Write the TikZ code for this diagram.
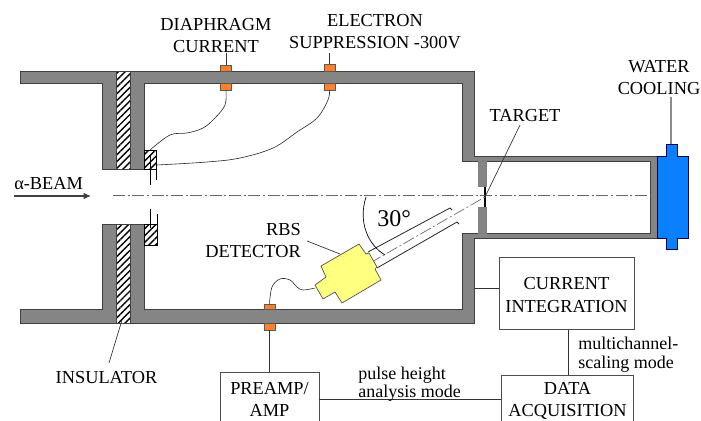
\documentclass[tikz,border=0pt]{standalone}
\usepackage{fontspec}
\setmainfont{Liberation Serif}
\usetikzlibrary{patterns.meta,arrows.meta}
\definecolor{wall}{HTML}{858585}
\definecolor{feed}{HTML}{FF7F2A}
\definecolor{cool}{HTML}{0A80FF}
\definecolor{det}{HTML}{FFFF80}
\tikzset{
  wallshape/.style={fill=wall,draw=black!75,line width=0.6pt},
  hatch/.style={preaction={fill=white},pattern={Lines[angle=45,distance=3.6pt,line width=1.05pt]}},
  feedbox/.style={draw=black!65,fill=feed,line width=0.4pt,inner sep=0pt,minimum width=8pt,minimum height=#1},
  wire/.style={draw=black!85,line width=0.45pt},
  leader/.style={draw=black!80,line width=0.5pt},
  axisline/.style={draw=black!60,line width=0.5pt,dash pattern=on 9pt off 2pt on 1.5pt off 2pt},
  lab/.style={inner sep=0pt,align=center,font=\fontsize{13.75}{16.5}\selectfont},
  small/.style={inner sep=0pt,align=left,font=\fontsize{13.5}{12}\selectfont},
  boxed/.style={draw=black!70,line width=0.5pt,fill=white,align=center,font=\fontsize{13.75}{16.5}\selectfont,anchor=north,inner xsep=0pt}
}
\begin{document}
\begin{tikzpicture}[x=0.75pt,y=-0.75pt]
\clip (0,0) rectangle (701,421);
% chamber
\path[wallshape] (20,71)--(474,71)--(474,156)--(657,156)--(657,238)--(474,238)--(474,323)--(20,323)--(20,309)--(102,309)--(102,224)--(144,224)--(144,309)--(462,309)--(462,233)--(650,233)--(650,161)--(462,161)--(462,83)--(144,83)--(144,169)--(102,169)--(102,83)--(20,83)--cycle;
% insulators and diaphragm
\path[hatch,draw=black!75,line width=0.4pt] (116,71) rectangle (130.5,169);
\path[hatch,draw=black!75,line width=0.4pt] (116,224) rectangle (130.5,323);
\path[hatch,draw=black,line width=0.4pt] (144,150) rectangle (156,169);
\path[hatch,draw=black,line width=0.4pt] (144,224) rectangle (157,245);
\draw[line width=0.6pt] (150,155)--(150,185);
\draw[line width=0.4pt] (156,165)--(156,180);
\draw[line width=0.6pt] (150.5,209)--(150.5,228);
\draw[line width=0.4pt] (157,214)--(157,224);
% target flange
\path[fill=wall,draw=black!50,line width=0.3pt] (478,161) rectangle (486,186);
\path[fill=wall,draw=black!50,line width=0.3pt] (478,207) rectangle (486,233);
\draw[line width=1pt] (485,187)--(485,207);
% water jacket
\path[fill=cool,draw=black!70!blue,line width=0.5pt] (657,156)--(666,156)--(666,144)--(677,144)--(677,156)--(688,156)--(688,238)--(677,238)--(677,249)--(666,249)--(666,238)--(657,238)--cycle;
% feedthroughs
\node[feedbox=4.5pt] (ftAo) at (226,68) {};
\node[feedbox=5.5pt] (ftAi) at (226,86.5) {};
\node[feedbox=5pt] (ftBo) at (329.5,67.5) {};
\node[feedbox=5.5pt] (ftBi) at (329.5,86.5) {};
\node[feedbox=4pt] (ftCi) at (269.5,306.5) {};
\node[feedbox=5pt] (ftCo) at (269.5,326.5) {};
% wires
\coordinate (dA) at (150,150);
\coordinate (dB) at (157,165);
\draw[wire] plot[smooth,tension=0.6] coordinates {(ftAi.south) (225,105) (215,118) (203,128) (187,133) (170,135) (dA)};
\draw[wire] plot[smooth,tension=0.6] coordinates {(ftBi.south) (328,100) (317,118) (297,132) (273,148) (240,158) (207,162) (dB)};
\coordinate (tA) at (226,53);
\coordinate (tB) at (329.5,53);
\draw[leader] (tA)--(ftAo.north);
\draw[leader] (tB)--(ftBo.north);
% beam axis
\coordinate (axL) at (113,195.7);
\coordinate (axR) at (650,195.7);
\draw[axisline] (axL)--(axR);
% detector
\coordinate (tgt) at (485,197);
\coordinate (detEnd) at (370,263);
\draw[line width=0.6pt,draw=black!85] (368,252)--(450,208)--(452,210);
\draw[line width=0.6pt,draw=black!85] (377,268)--(457,222)--(459,224);
\draw[axisline] (detEnd)--(tgt);
\node[inner sep=0pt,minimum size=0pt] (detp) at (315,288) {};
\path[fill=det,draw=black!70,line width=0.5pt] (321,266)--(359,244)--(366,254)--(369,253)--(377,267)--(375,269)--(381,280)--(342,303)--(335,292)--(323,299)--(315,285)--(326,277)--cycle;
\draw[wire] plot[smooth,tension=0.6] coordinates {(ftCi.north) (272,287) (280,279) (290,280) (297,287) (303,290) (detp)};
\draw[line width=0.5pt] (366,197) .. controls (358,222) and (368,245) .. (385,255);
% boxes
\node[boxed,minimum width=74.25pt,inner ysep=7.5pt] (preamp) at (269.5,372) {PREAMP/\\AMP};
\node[boxed,minimum width=99pt,inner ysep=5.5pt] (daq) at (567.5,375) {DATA\\ACQUISITION};
\node[boxed,minimum width=101pt,minimum height=54pt] (cur) at (566.5,257) {};
\node[lab,font=\fontsize{13.75}{17}\selectfont] (curtxt) at (566.5,295) {CURRENT\\INTEGRATION};
\coordinate (jp) at (400,399);
\coordinate (jc) at (474,288);
\draw[leader] (ftCo.south)--(ftCo.south |- preamp.north);
\draw[leader] (preamp.east |- jp)--(daq.west |- jp);
\draw[leader] (jc)--(cur.west |- jc);
\coordinate (jd) at (568,350);
\draw[leader] (cur.south -| jd)--(daq.north -| jd);
% labels
\node[lab] (ldia) at (216,36) {DIAPHRAGM\\CURRENT};
\node[lab] (lele) at (375,32) {ELECTRON\\SUPPRESSION -300V};
\node[lab] (lwat) at (659,78) {WATER\\COOLING};
\node[lab,anchor=base] (ltar) at (525,121) {TARGET};
\node[lab,anchor=base west] (lbeam) at (14,189) {α-BEAM};
\node[lab,anchor=base] (lins) at (106.5,383) {INSULATOR};
\node[lab,align=right,anchor=east] (lrbs) at (301,241) {RBS\\DETECTOR};
\node[inner sep=0pt,font=\fontsize{18}{20}\selectfont,anchor=base west] (lang) at (377,226) {30°};
\node[small,anchor=west] (lpul) at (358,384) {pulse height\\analysis mode};
\node[small,align=left,font=\fontsize{13.5}{14.25}\selectfont,anchor=west] (lmul) at (578,355) {multichannel-\\scaling mode};
% leaders
\coordinate (a1) at (520,125);
\draw[leader] (a1)--(tgt);
\coordinate (a2) at (671,97);
\draw[draw=black!45,line width=0.8pt] (a2)--(671,144);
\coordinate (a3) at (122,320);
\coordinate (a4) at (109,363);
\draw[leader] (a3)--(a4);
\coordinate (a5) at (307,241);
\coordinate (a6) at (340,254);
\draw[leader] (a5)--(a6);
\coordinate (b1) at (14,196);
\coordinate (b2) at (91,196);
\draw[draw=black!75,line width=0.8pt,-{Latex[length=5.5pt,width=5pt]}] (b1)--(b2);
\end{tikzpicture}
\end{document}
